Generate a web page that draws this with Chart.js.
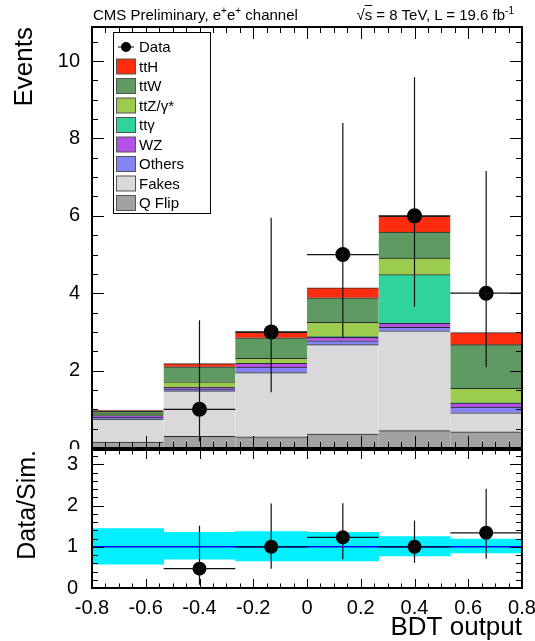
<!DOCTYPE html>
<html>
<head>
<meta charset="utf-8">
<script src="https://cdn.jsdelivr.net/npm/chart.js@4.4.1/dist/chart.umd.min.js"></script>
<style>
  body { margin: 0; background: #fff; }
  #wrap { position: relative; width: 535px; height: 641px; font-family: "Liberation Sans", Arial, sans-serif; }
  #topChart { position: absolute; left: 0; top: 0; }
  #ratioChart { position: absolute; left: 0; top: 449px; background: #fff; }
  .hdr { position: absolute; top: 6px; font-size: 15px; line-height: 17px; color: #000; white-space: nowrap; }
  .hdr sup { font-size: 10px; line-height: 0; }
  .ovl { text-decoration: overline; }
</style>
</head>
<body>
<div id="wrap">
  <canvas id="topChart" width="535" height="450"></canvas>
  <canvas id="ratioChart" width="535" height="192"></canvas>
  <div class="hdr" style="left:93px">CMS Preliminary, e<sup>+</sup>e<sup>+</sup> channel</div>
  <div class="hdr" style="right:21px">√<span class="ovl">s</span> = 8 TeV, L = 19.6 fb<sup>-1</sup></div>
</div>
<script>
// Bins of the BDT output
const binLabels = ["-0.8:-0.53", "-0.53:-0.27", "-0.27:0", "0:0.27", "0.27:0.53", "0.53:0.8"];
const binCenters = [-0.6667, -0.4, -0.1333, 0.1333, 0.4, 0.6667];
const binHalfWidths = [0.1333, 0.1333, 0.1333, 0.1333, 0.1333, 0.1333];

// Simulation, stacked from the bottom up
const qFlip = [0.15, 0.30, 0.29, 0.36, 0.45, 0.42];
const fakes = [0.60, 1.18, 1.66, 2.31, 2.58, 0.49];
const others = [0.05, 0.05, 0.14, 0.10, 0.09, 0.15];
const wz = [0.04, 0.04, 0.10, 0.09, 0.10, 0.10];
const ttGamma = [0.00, 0.00, 0.00, 0.02, 1.26, 0.00];
const ttZ = [0.04, 0.14, 0.13, 0.37, 0.43, 0.38];
const ttW = [0.07, 0.39, 0.53, 0.63, 0.67, 1.13];
const ttH = [0.02, 0.08, 0.14, 0.26, 0.41, 0.31];

// Observed events with error bar ends
const obsCounts = [null, 1, 3, 5, 6, 4];
const obsLow = [null, 0.17, 1.44, 2.84, 3.65, 2.09];
const obsHigh = [null, 3.30, 5.95, 8.40, 9.58, 7.16];

// Ratio panel
const ratioVals = [null, 0.47, 1.00, 1.23, 1.00, 1.34];
const ratioLow = [null, 0.08, 0.47, 0.70, 0.61, 0.71];
const ratioHigh = [null, 1.51, 2.05, 2.06, 1.64, 2.41];
const bandLow = [0.58, 0.70, 0.66, 0.66, 0.78, 0.85];
const bandHigh = [1.44, 1.35, 1.37, 1.35, 1.25, 1.19];
const refLineX = [-0.8, 0.8];
const refLineY = [1, 1];

const FONT = "Liberation Sans";
Chart.defaults.font.family = FONT;
Chart.defaults.color = "#000";

// points with their error bar ends, empty bins dropped
function pointsWithErrors(vals, lo, hi) {
  return binCenters
    .map((c, i) => ({ x: c, y: vals[i], lo: lo[i], hi: hi[i], ex: binHalfWidths[i] }))
    .filter((p) => p.y !== null);
}

function tickMarks(scale, minor, major) {
  const out = [];
  for (let k = Math.ceil(scale.min / minor - 1e-6); k * minor <= scale.max + 1e-9; k++) {
    const v = k * minor;
    const r = v / major;
    out.push([v, Math.abs(r - Math.round(r)) < 1e-6]);
  }
  return out;
}

// ROOT style frame: ticks pointing inwards on all four sides
const rootFrame = {
  id: "rootFrame",
  afterDatasetsDraw(chart, args, o) {
    const { ctx, chartArea: a, scales } = chart;
    ctx.save();
    ctx.strokeStyle = "#000";
    ctx.lineWidth = 1;
    ctx.beginPath();
    tickMarks(scales.x, o.xMinor, o.xMajor).forEach(([v, major]) => {
      const px = Math.round(scales.x.getPixelForValue(v)) + 0.5;
      const len = major ? o.xLen : o.xLen / 2;
      ctx.moveTo(px, a.bottom);
      ctx.lineTo(px, a.bottom - len);
      ctx.moveTo(px, a.top);
      ctx.lineTo(px, a.top + len);
    });
    tickMarks(scales.y, o.yMinor, o.yMajor).forEach(([v, major]) => {
      const py = Math.round(scales.y.getPixelForValue(v)) + 0.5;
      const len = major ? o.yLen : o.yLen / 2;
      ctx.moveTo(a.left, py);
      ctx.lineTo(a.left + len, py);
      ctx.moveTo(a.right, py);
      ctx.lineTo(a.right - len, py);
    });
    ctx.stroke();
    ctx.lineWidth = 2;
    ctx.strokeRect(a.left, a.top, a.width, a.height);
    ctx.restore();
  },
};

// Error bars for datasets whose points carry lo / hi / ex
const errorBars = {
  id: "errorBars",
  afterDatasetsDraw(chart) {
    const { ctx } = chart;
    ctx.save();
    ctx.strokeStyle = "#111";
    ctx.lineWidth = 1.2;
    ctx.beginPath();
    chart.data.datasets.forEach((ds, i) => {
      if (!ds.withErrors) return;
      const meta = chart.getDatasetMeta(i);
      const xs = chart.scales[meta.xAxisID];
      const ys = chart.scales[meta.yAxisID];
      ds.data.forEach((p) => {
        const px = xs.getPixelForValue(p.x);
        const py = ys.getPixelForValue(p.y);
        ctx.moveTo(xs.getPixelForValue(p.x - p.ex), py);
        ctx.lineTo(xs.getPixelForValue(p.x + p.ex), py);
        ctx.moveTo(px, ys.getPixelForValue(p.lo));
        ctx.lineTo(px, ys.getPixelForValue(p.hi));
      });
    });
    ctx.stroke();
    ctx.restore();
  },
};

// Legend box drawn inside the top frame, data first then the stack top-down
const boxLegend = {
  id: "boxLegend",
  afterDraw(chart, args, o) {
    if (!o.show) return;
    const { ctx } = chart;
    const sets = chart.data.datasets;
    const entries = [sets[0]].concat(sets.slice(1).reverse());
    ctx.save();
    ctx.fillStyle = "#fff";
    ctx.fillRect(o.x, o.y, o.w, o.h);
    ctx.strokeStyle = "#000";
    ctx.lineWidth = 1;
    ctx.strokeRect(o.x + 0.5, o.y + 0.5, o.w, o.h);
    ctx.font = "15px " + FONT;
    ctx.textBaseline = "middle";
    entries.forEach((ds, i) => {
      const cy = o.y + 15 + i * 19.5;
      const sx = o.x + 3;
      if (ds.type === "scatter") {
        ctx.strokeStyle = "#000";
        ctx.beginPath();
        ctx.moveTo(sx + 2, cy);
        ctx.lineTo(sx + 18, cy);
        ctx.stroke();
        ctx.fillStyle = "#000";
        ctx.beginPath();
        ctx.arc(sx + 10, cy, 5, 0, Math.PI * 2);
        ctx.fill();
      } else {
        ctx.fillStyle = ds.backgroundColor;
        ctx.fillRect(sx, cy - 7.5, 19, 15);
        ctx.strokeStyle = "#555";
        ctx.strokeRect(sx + 0.5, cy - 7.5, 19, 15);
      }
      ctx.fillStyle = "#000";
      ctx.fillText(ds.label, sx + 23, cy + 1);
    });
    ctx.restore();
  },
};

function mcSet(label, values, color) {
  return {
    type: "bar",
    label: label,
    data: values,
    xAxisID: "xb",
    stack: "mc",
    grouped: false,
    skipNull: true,
    backgroundColor: color,
    borderColor: "#2a2a2a",
    borderWidth: { top: 1, left: 0, right: 0, bottom: 0 },
    borderSkipped: false,
    barPercentage: 1,
    categoryPercentage: 1,
  };
}

const fixY = (w) => (s) => { s.width = w; s.paddingTop = 0; s.paddingBottom = 0; };
const fixX = (h) => (s) => { s.height = h; s.paddingLeft = 0; s.paddingRight = 0; };
const fmt = (v) => (Math.abs(v) < 1e-9 ? "0" : String(+v.toFixed(1)));

new Chart(document.getElementById("topChart"), {
  data: {
    datasets: [
      {
        type: "scatter",
        label: "Data",
        data: pointsWithErrors(obsCounts, obsLow, obsHigh),
        withErrors: true,
        xAxisID: "x",
        backgroundColor: "#000",
        borderWidth: 0,
        pointRadius: 7.5,
      },
      mcSet("Q Flip", qFlip, "#a2a2a2"),
      mcSet("Fakes", fakes, "#d9d9db"),
      mcSet("Others", others, "#8484f4"),
      mcSet("WZ", wz, "#b452e6"),
      mcSet("tt\u03b3", ttGamma, "#2fd49c"),
      mcSet("ttZ/\u03b3*", ttZ, "#9ccc4e"),
      mcSet("ttW", ttW, "#5e9a62"),
      mcSet("ttH", ttH, "#ff2d10"),
    ],
  },
  options: {
    responsive: false,
    animation: false,
    layout: { autoPadding: false, padding: { top: 27, right: 13, bottom: 2, left: 0 } },
    scales: {
      xb: { type: "category", labels: binLabels, display: false, offset: true, stacked: true },
      x: { type: "linear", min: -0.8, max: 0.8, display: false },
      y: {
        type: "linear",
        stacked: true,
        min: 0,
        max: 10.88,
        afterFit: fixY(92),
        grid: { display: false },
        border: { display: false },
        ticks: { stepSize: 2, includeBounds: false, padding: 4, font: { size: 20 }, callback: fmt },
        title: {
          display: true,
          text: "Events",
          align: "end",
          font: { size: 26, lineHeight: 1 },
          padding: { top: 12, bottom: 0 },
        },
      },
    },
    plugins: {
      legend: { display: false },
      tooltip: { enabled: false },
      rootFrame: { xMinor: 0.05, xMajor: 0.2, xLen: 12, yMinor: 0.5, yMajor: 2, yLen: 12 },
      boxLegend: { show: true, x: 113, y: 32, w: 97, h: 181 },
    },
  },
  plugins: [rootFrame, errorBars, boxLegend],
});

new Chart(document.getElementById("ratioChart"), {
  data: {
    datasets: [
      {
        type: "scatter",
        label: "Data/Sim.",
        data: pointsWithErrors(ratioVals, ratioLow, ratioHigh),
        withErrors: true,
        xAxisID: "x",
        backgroundColor: "#000",
        borderWidth: 0,
        pointRadius: 7,
      },
      {
        type: "line",
        label: "Reference",
        data: refLineX.map((x, i) => ({ x: x, y: refLineY[i] })),
        xAxisID: "x",
        borderColor: "#0000ff",
        borderWidth: 1.5,
        pointRadius: 0,
      },
      {
        type: "bar",
        label: "Sim. uncertainty",
        data: bandLow.map((l, i) => [l, bandHigh[i]]),
        xAxisID: "xb",
        grouped: false,
        skipNull: true,
        backgroundColor: "#00f0ff",
        borderWidth: 0,
        barPercentage: 1,
        categoryPercentage: 1,
      },
    ],
  },
  options: {
    responsive: false,
    animation: false,
    layout: { autoPadding: false, padding: { top: 1, right: 13, bottom: 0, left: 0 } },
    scales: {
      xb: { type: "category", labels: binLabels, display: false, offset: true },
      x: {
        type: "linear",
        min: -0.8,
        max: 0.8,
        afterFit: fixX(53),
        grid: { display: false },
        border: { display: false },
        ticks: { stepSize: 0.2, padding: 0, maxRotation: 0, autoSkip: false, font: { size: 20 }, callback: fmt },
        title: {
          display: true,
          text: "BDT output",
          align: "end",
          font: { size: 26, lineHeight: 1 },
          padding: { top: 0, bottom: 0 },
        },
      },
      y: {
        type: "linear",
        min: 0,
        max: 3.35,
        afterFit: fixY(92),
        grid: { display: false },
        border: { display: false },
        ticks: { stepSize: 1, includeBounds: false, padding: 6, font: { size: 20 }, callback: fmt },
        title: {
          display: true,
          text: "Data/Sim.",
          align: "end",
          font: { size: 25, lineHeight: 1 },
          padding: { top: 16, bottom: 0 },
        },
      },
    },
    plugins: {
      legend: { display: false },
      tooltip: { enabled: false },
      rootFrame: { xMinor: 0.05, xMajor: 0.2, xLen: 9, yMinor: 0.2, yMajor: 1, yLen: 12 },
      boxLegend: { show: false },
    },
  },
  plugins: [rootFrame, errorBars, boxLegend],
});
</script>
</body>
</html>
